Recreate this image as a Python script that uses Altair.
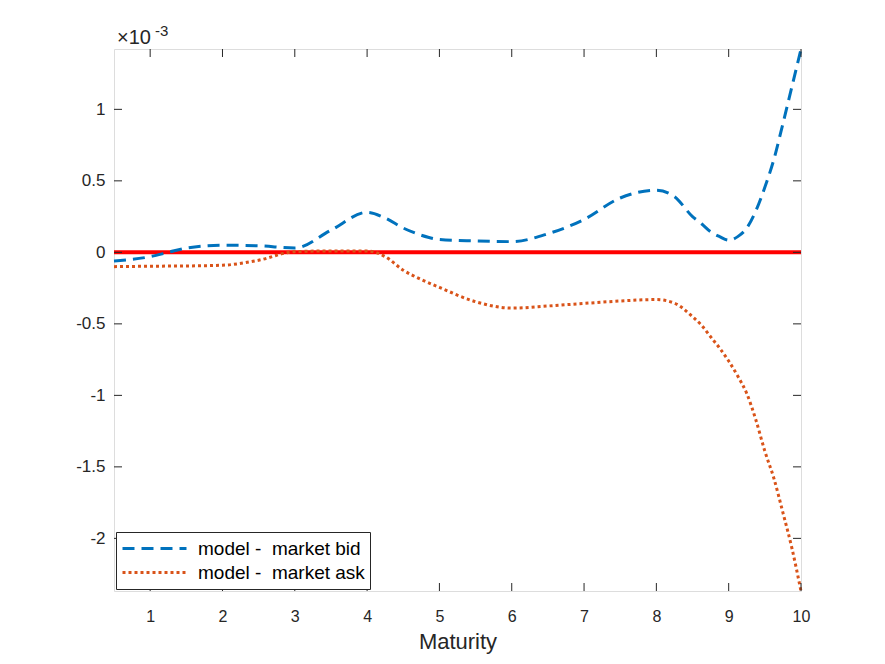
import altair as alt
import pandas as pd

# Maturity grid
maturity = [0.5, 1, 1.25, 1.5, 2, 2.5, 3, 3.5, 4, 4.25, 4.5, 4.75, 5, 5.5, 6, 6.5, 7, 7.5, 8,
            8.25, 8.5, 8.625, 8.75, 8.875, 9, 9.125, 9.25, 9.375, 9.5, 9.625, 9.75, 9.875, 10]
# values in units of 1e-3
bid = [-0.06, -0.03, 0.0, 0.03, 0.05, 0.046, 0.03, 0.155, 0.28, 0.24, 0.17, 0.12, 0.09, 0.08, 0.075,
       0.13, 0.23, 0.38, 0.435, 0.39, 0.25, 0.2, 0.144, 0.11, 0.085, 0.11, 0.17, 0.29, 0.455, 0.65,
       0.90, 1.16, 1.42]
ask = [-0.1, -0.097, -0.096, -0.095, -0.09, -0.055, 0.005, 0.01, 0.01, -0.03, -0.125, -0.19, -0.245,
       -0.345, -0.39, -0.375, -0.357, -0.34, -0.33, -0.355, -0.45, -0.51, -0.59, -0.67, -0.76, -0.865,
       -0.987, -1.17, -1.39, -1.58, -1.82, -2.07, -2.37]

series_names = ["model - \u00a0market bid", "model - \u00a0market ask"]
series_colors = ["#0072BD", "#D95319"]
series_dashes = [[12, 7], [3, 3]]

x_ticks = [1, 2, 3, 4, 5, 6, 7, 8, 9, 10]
y_ticks = [-2, -1.5, -1, -0.5, 0, 0.5, 1]

rows = []
for m, b in zip(maturity, bid):
    rows.append({"Maturity": m, "value": b, "series": series_names[0]})
for m, a in zip(maturity, ask):
    rows.append({"Maturity": m, "value": a, "series": series_names[1]})
df = pd.DataFrame(rows)

W, H = 687, 542
AX = "#262626"
FONT = "Liberation Sans"

xscale = alt.Scale(domain=[0.5, 10], nice=False, zero=False)
yscale = alt.Scale(domain=[-2.368, 1.422], nice=False, zero=False)

x_axis = alt.Axis(values=x_ticks, format="d", ticks=False, domain=False, grid=False,
                  labelFontSize=16, labelColor=AX, labelPadding=17, labelFont=FONT,
                  labelFlush=False, labelOverlap=False,
                  title="Maturity", titleFontSize=22, titleFontWeight="normal",
                  titleColor=AX, titleFont=FONT, titlePadding=7)
y_axis = alt.Axis(values=y_ticks, labelExpr="toString(datum.value)", ticks=False,
                  domain=False, grid=False, labelFontSize=17, labelColor=AX,
                  labelPadding=9, labelFont=FONT, labelFlush=False, labelOverlap=False, title=None)

leg = alt.Legend(title=None, orient="bottom-left", offset=2,
                 strokeColor=AX, fillColor="white", padding=5,
                 labelFontSize=19, labelFont=FONT, labelColor="black", labelLimit=400,
                 symbolType="stroke", symbolSize=4096, symbolStrokeWidth=3,
                 clipHeight=23, rowPadding=1, labelOffset=10, cornerRadius=0)

zero_line = alt.Chart(pd.DataFrame({"value": [0]})).mark_rule(
    color="#FF0000", strokeWidth=4
).encode(y=alt.Y("value:Q", scale=yscale, axis=y_axis))

lines = alt.Chart(df).mark_line(strokeWidth=3, interpolate="monotone", strokeCap="butt").encode(
    x=alt.X("Maturity:Q", scale=xscale, axis=x_axis),
    y=alt.Y("value:Q", scale=yscale, axis=y_axis),
    color=alt.Color("series:N", scale=alt.Scale(domain=series_names, range=series_colors), legend=leg),
    strokeDash=alt.StrokeDash("series:N", scale=alt.Scale(domain=series_names, range=series_dashes),
                              legend=leg),
)

xt = pd.DataFrame({"Maturity": x_ticks})
yt = pd.DataFrame({"value": y_ticks})
tick_bottom = alt.Chart(xt).mark_rule(color=AX, strokeWidth=1).encode(
    x=alt.X("Maturity:Q", scale=xscale, axis=x_axis), y=alt.value(H), y2=alt.value(H - 8))
tick_top = alt.Chart(xt).mark_rule(color=AX, strokeWidth=1).encode(
    x=alt.X("Maturity:Q", scale=xscale, axis=x_axis), y=alt.value(0), y2=alt.value(8))
tick_left = alt.Chart(yt).mark_rule(color=AX, strokeWidth=1).encode(
    y=alt.Y("value:Q", scale=yscale, axis=y_axis), x=alt.value(0), x2=alt.value(8))
tick_right = alt.Chart(yt).mark_rule(color=AX, strokeWidth=1).encode(
    y=alt.Y("value:Q", scale=yscale, axis=y_axis), x=alt.value(W), x2=alt.value(W - 8))

one = pd.DataFrame({"k": [0]})
exp_base = alt.Chart(one).mark_text(align="left", baseline="alphabetic", fontSize=20,
                                    font=FONT, color=AX).encode(
    x=alt.value(3), y=alt.value(-5), text=alt.value("\u00d710"))
exp_pow = alt.Chart(one).mark_text(align="left", baseline="alphabetic", fontSize=15,
                                   font=FONT, color=AX).encode(
    x=alt.value(41), y=alt.value(-13), text=alt.value("-3"))

chart = alt.layer(
    zero_line, lines, tick_bottom, tick_top, tick_left, tick_right, exp_base, exp_pow
).properties(
    width=W, height=H,
    autosize=alt.AutoSizeParams(type="none"),
    padding={"left": 106, "top": 41, "right": 70, "bottom": 65},
).configure_view(stroke=AX, strokeWidth=1).configure(font=FONT, background="white")

chart.save("out.html", embed_options={"renderer": "svg", "actions": False})
